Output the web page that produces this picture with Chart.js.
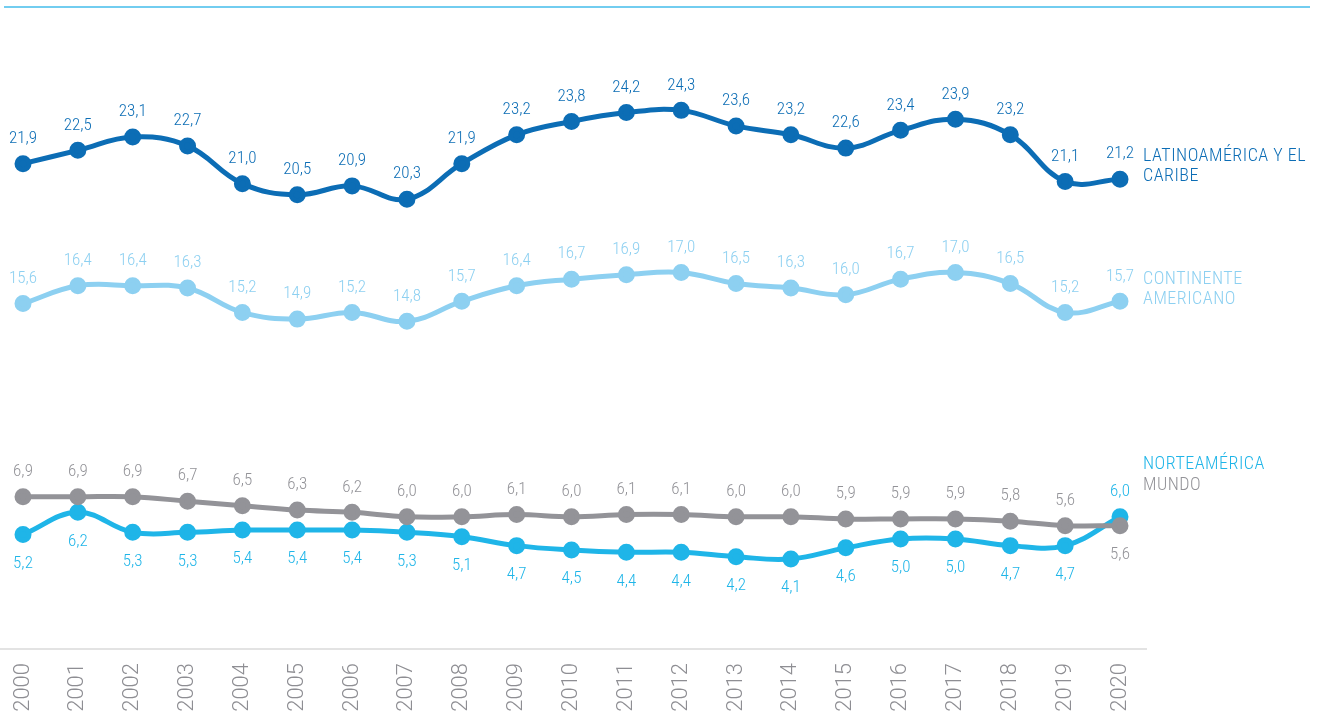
<!DOCTYPE html>
<html lang="es">
<head>
<meta charset="utf-8">
<title>Evolución 2000-2020</title>
<script src="https://cdn.jsdelivr.net/npm/chart.js@4.4.1/dist/chart.umd.min.js"></script>
<style>
  html, body { margin: 0; padding: 0; background: #ffffff; }
  #chart { display: block; }
</style>
</head>
<body>
<canvas id="chart" width="1317" height="720"></canvas>
<script>
const years = ["2000", "2001", "2002", "2003", "2004", "2005", "2006", "2007", "2008", "2009", "2010",
  "2011", "2012", "2013", "2014", "2015", "2016", "2017", "2018", "2019", "2020"];

const latinoamerica = [21.9, 22.5, 23.1, 22.7, 21.0, 20.5, 20.9, 20.3, 21.9, 23.2, 23.8,
  24.2, 24.3, 23.6, 23.2, 22.6, 23.4, 23.9, 23.2, 21.1, 21.2];
const continente = [15.6, 16.4, 16.4, 16.3, 15.2, 14.9, 15.2, 14.8, 15.7, 16.4, 16.7,
  16.9, 17.0, 16.5, 16.3, 16.0, 16.7, 17.0, 16.5, 15.2, 15.7];
const mundo = [6.9, 6.9, 6.9, 6.7, 6.5, 6.3, 6.2, 6.0, 6.0, 6.1, 6.0,
  6.1, 6.1, 6.0, 6.0, 5.9, 5.9, 5.9, 5.8, 5.6, 5.6];
const norteamerica = [5.2, 6.2, 5.3, 5.3, 5.4, 5.4, 5.4, 5.3, 5.1, 4.7, 4.5,
  4.4, 4.4, 4.2, 4.1, 4.6, 5.0, 5.0, 4.7, 4.7, 6.0];

const seriesNames = {
  latinoamerica: ["LATINOAMÉRICA Y EL", "CARIBE"],
  continente: ["CONTINENTE", "AMERICANO"],
  norteamerica: ["NORTEAMÉRICA"],
  mundo: ["MUNDO"],
};

const COLORS = {
  latinoamerica: "#0c6db5",
  continente: "#8dd0f1",
  norteamerica: "#1fb5e8",
  mundo: "#939398",
  ticks: "#8e8e93",
  topRule: "#72cdf0",
  axis: "#e3e3e3",
};

const LABEL_FONT = "'Roboto Condensed', 'Liberation Sans Narrow', 'Roboto', sans-serif";
const YEAR_FONT = "'Roboto', 'Open Sans', sans-serif";

function formatValue(value) {
  return value.toFixed(1).replace(".", ",");
}

function lineDataset(label, data, color, extra) {
  return Object.assign(
    {
      label,
      data,
      borderColor: color,
      backgroundColor: color,
      pointBackgroundColor: color,
      pointBorderColor: color,
      borderWidth: 5,
      pointRadius: 6,
      pointHoverRadius: 6,
      tension: 0.4,
      fill: false,
      labelBelow: [],
    },
    extra,
  );
}

// value above (or below) every point, in the series colour
const valueLabels = {
  id: "valueLabels",
  afterDatasetsDraw(chart) {
    const { ctx } = chart;
    ctx.save();
    ctx.font = `300 17px ${LABEL_FONT}`;
    ctx.textAlign = "center";
    ctx.textBaseline = "middle";
    chart.data.datasets.forEach((dataset, datasetIndex) => {
      const meta = chart.getDatasetMeta(datasetIndex);
      ctx.fillStyle = dataset.borderColor;
      meta.data.forEach((point, index) => {
        const below = dataset.labelBelow.includes(index);
        const y = below ? point.y + 29 : point.y - 25;
        ctx.fillText(formatValue(dataset.data[index]), point.x, y);
      });
    });
    ctx.restore();
  },
};

// series names on the right, plus the top rule and the baseline
const decorations = {
  id: "decorations",
  beforeDraw(chart) {
    const { ctx, chartArea } = chart;
    ctx.save();
    ctx.strokeStyle = COLORS.topRule;
    ctx.lineWidth = 2;
    ctx.beginPath();
    ctx.moveTo(4, 7);
    ctx.lineTo(1310, 7);
    ctx.stroke();

    ctx.strokeStyle = COLORS.axis;
    ctx.beginPath();
    ctx.moveTo(0, chartArea.bottom - 1);
    ctx.lineTo(chartArea.right + 27, chartArea.bottom - 1);
    ctx.stroke();
    ctx.restore();
  },
  afterDraw(chart) {
    const { ctx, chartArea } = chart;
    const yScale = chart.scales.y;
    const x = chartArea.right + 23;
    const last = years.length - 1;
    const blocks = [
      { lines: seriesNames.latinoamerica, color: COLORS.latinoamerica, top: yScale.getPixelForValue(latinoamerica[last]) - 23 },
      { lines: seriesNames.continente, color: COLORS.continente, top: yScale.getPixelForValue(continente[last]) - 22 },
      { lines: seriesNames.norteamerica, color: COLORS.norteamerica, top: yScale.getPixelForValue(norteamerica[last]) - 52 },
      { lines: seriesNames.mundo, color: COLORS.mundo, top: yScale.getPixelForValue(norteamerica[last]) - 31 },
    ];
    ctx.save();
    ctx.font = `300 18px ${LABEL_FONT}`;
    ctx.letterSpacing = "0.5px";
    ctx.textAlign = "left";
    ctx.textBaseline = "middle";
    blocks.forEach((block) => {
      ctx.fillStyle = block.color;
      block.lines.forEach((line, i) => {
        ctx.fillText(line, x, block.top + i * 20.5);
      });
    });
    ctx.restore();
  },
};

new Chart(document.getElementById("chart"), {
  type: "line",
  data: {
    labels: years,
    datasets: [
      lineDataset("Latinoamérica y el Caribe", latinoamerica, COLORS.latinoamerica),
      lineDataset("Continente americano", continente, COLORS.continente),
      lineDataset("Mundo", mundo, COLORS.mundo, { labelBelow: [20] }),
      lineDataset("Norteamérica", norteamerica, COLORS.norteamerica, {
        labelBelow: years.map((_, i) => i).filter((i) => i !== 20),
      }),
    ],
  },
  options: {
    responsive: false,
    animation: false,
    layout: {
      autoPadding: false,
      padding: { top: 6, left: 23, right: 197, bottom: 0 },
    },
    plugins: {
      legend: { display: false },
      tooltip: { enabled: false },
    },
    scales: {
      x: {
        offset: false,
        grid: { display: false, drawTicks: false },
        border: { display: false },
        ticks: {
          color: COLORS.ticks,
          font: { family: YEAR_FONT, size: 22, weight: "300" },
          minRotation: 90,
          maxRotation: 90,
          padding: 13,
          autoSkip: false,
        },
        afterFit(scale) {
          scale.height = 70;
        },
      },
      y: {
        display: false,
        min: 0,
        max: 29,
      },
    },
  },
  plugins: [decorations, valueLabels],
});
</script>
</body>
</html>
